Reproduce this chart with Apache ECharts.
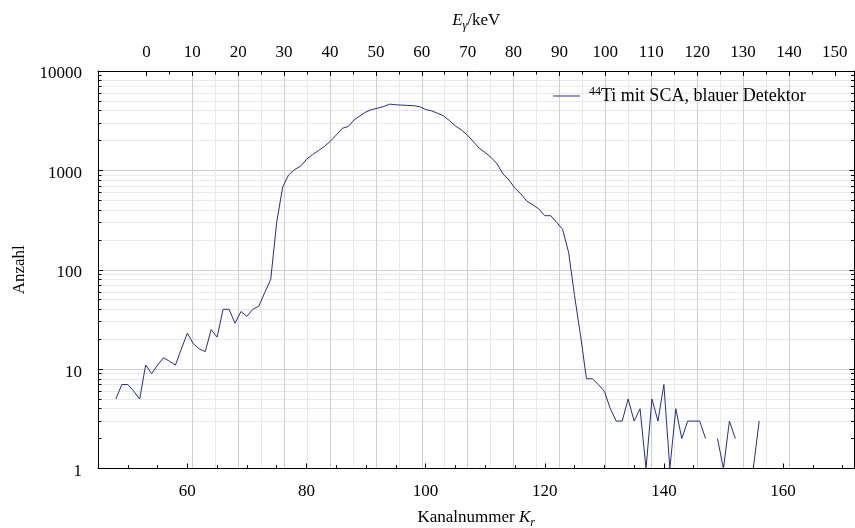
<!DOCTYPE html>
<html>
<head>
<meta charset="utf-8">
<script src="https://cdn.jsdelivr.net/npm/echarts@6/dist/echarts.min.js"></script>
<style>
html, body { margin: 0; background: #fff; }
#chart { width: 855px; height: 528px; }
</style>
</head>
<body>
<div id="chart"></div>
<script>
'use strict';

// channel numbers K_r and counts per channel (0 = empty channel, not drawable on log axis)
var channels = [
    48, 49, 50, 51, 52, 53, 54, 55, 56, 57,
    58, 59, 60, 61, 62, 63, 64, 65, 66, 67,
    68, 69, 70, 71, 72, 73, 74, 75, 76, 77,
    78, 79, 80, 81, 82, 83, 84, 85, 86, 87,
    88, 89, 90, 91, 92, 93, 94, 95, 96, 97,
    98, 99, 100, 101, 102, 103, 104, 105, 106, 107,
    108, 109, 110, 111, 112, 113, 114, 115, 116, 117,
    118, 119, 120, 121, 122, 123, 124, 125, 126, 127,
    128, 129, 130, 131, 132, 133, 134, 135, 136, 137,
    138, 139, 140, 141, 142, 143, 144, 145, 146, 147,
    148, 149, 150, 151, 152, 153, 154, 155, 156
];
var counts = [
    5, 7, 7, 6, 5, 11, 9, 11, 13, 12,
    11, 16, 23, 18, 16, 15, 25, 21, 40, 40,
    29, 38, 34, 40, 43, 59, 80, 300, 680, 900,
    1020, 1100, 1290, 1440, 1580, 1740, 1960, 2270, 2650, 2760,
    3220, 3540, 3880, 4100, 4230, 4400, 4640, 4570, 4540, 4500,
    4480, 4370, 4100, 3970, 3760, 3540, 3170, 2800, 2550, 2270,
    1950, 1670, 1510, 1350, 1160, 920, 800, 660, 580, 490,
    450, 410, 350, 350, 300, 255, 150, 55, 22, 8,
    8, 7, 6, 4, 3, 3, 5, 3, 4, 1,
    5, 3, 7, 1, 4, 2, 3, 3, 3, 2,
    0, 2, 1, 3, 2, 0, 0, 1, 3
];

var channelRange = [45, 172];
var energyRange = [-10.548, 154.29];   // E_gamma/keV at the same left/right edges
var countRange = [1, 10000];

var channelTicks = [60, 80, 100, 120, 140, 160];
var channelMinorTicks = [50, 55, 65, 70, 75, 85, 90, 95, 105, 110, 115, 125, 130, 135, 145, 150, 155, 165, 170];
var energyTicks = [0, 10, 20, 30, 40, 50, 60, 70, 80, 90, 100, 110, 120, 130, 140, 150];
var energyMinorTicks = [5, 15, 25, 35, 45, 55, 65, 75, 85, 95, 105, 115, 125, 135, 145];
var countMinorTicks = [
    2, 3, 4, 5, 6, 7, 8, 9,
    20, 30, 40, 50, 60, 70, 80, 90,
    200, 300, 400, 500, 600, 700, 800, 900,
    2000, 3000, 4000, 5000, 6000, 7000, 8000, 9000
];

var seriesName = '44Ti mit SCA, blauer Detektor';

var FONT = '"Liberation Serif", "DejaVu Serif", serif';
var lineColor = '#2a2a92';
var gridMajor = '#cfcfcf';
var gridMinor = '#e9e9e9';

var plot = {left: 98, top: 71, width: 756.5, height: 397.5, containLabel: false, outerBoundsMode: 'none'};

var blackLine = {show: true, onZero: false, lineStyle: {color: '#000', width: 1}};
var noLine = {show: false, onZero: false};
var labelFont = {fontFamily: FONT, fontSize: 17, color: '#000'};

function ticks(values, len) {
    var t = {show: true, inside: true, length: len, lineStyle: {color: '#000', width: 1}};
    if (values) t.customValues = values;
    return t;
}

function grid_lines(color) {
    return {show: true, showMinLine: false, showMaxLine: false, lineStyle: {color: color, width: 1}};
}

var nameStyle = {
    fontFamily: FONT,
    fontSize: 17,
    color: '#000',
    rich: {
        i: {fontFamily: FONT, fontSize: 17, fontStyle: 'italic', color: '#000'},
        s: {fontFamily: FONT, fontSize: 12, fontStyle: 'italic', color: '#000', verticalAlign: 'bottom', lineHeight: 22}
    }
};

var data = channels.map(function (k, i) {
    return [k, counts[i] > 0 ? counts[i] : '-'];
});

var chart = echarts.init(document.getElementById('chart'));

var option = {
    animation: false,
    backgroundColor: '#fff',
    grid: [plot, plot],
    xAxis: [
        // minor ticks / minor grid (grid 0)
        {
            gridIndex: 0, position: 'bottom', type: 'value',
            min: channelRange[0], max: channelRange[1],
            axisLine: noLine, axisTick: ticks(channelMinorTicks, 3.5),
            axisLabel: {show: false}, splitLine: {show: false}
        },
        {
            gridIndex: 0, position: 'top', type: 'value',
            min: energyRange[0], max: energyRange[1],
            axisLine: noLine, axisTick: ticks(energyMinorTicks, 3.5),
            axisLabel: {show: false}, splitLine: grid_lines(gridMinor)
        },
        // major ticks, labels (grid 1)
        {
            gridIndex: 1, position: 'bottom', type: 'value',
            min: channelRange[0], max: channelRange[1],
            axisLine: blackLine, axisTick: ticks(channelTicks, 5),
            axisLabel: Object.assign({customValues: channelTicks, margin: 15}, labelFont),
            splitLine: {show: false},
            name: 'Kanalnummer {i|K}{s|r}', nameLocation: 'middle', nameGap: 38,
            nameTextStyle: nameStyle
        },
        {
            gridIndex: 1, position: 'top', type: 'value',
            min: energyRange[0], max: energyRange[1],
            axisLine: blackLine, axisTick: ticks(energyTicks, 5),
            axisLabel: Object.assign({customValues: energyTicks, margin: 10}, labelFont),
            splitLine: grid_lines(gridMajor),
            name: '{i|E}{s|γ}/keV', nameLocation: 'middle', nameGap: 39,
            nameTextStyle: nameStyle
        }
    ],
    yAxis: [
        {
            gridIndex: 0, position: 'left', type: 'value',
            min: Math.log10(countRange[0]), max: Math.log10(countRange[1]),
            axisLine: noLine, axisTick: ticks(countMinorTicks.map(Math.log10), 3.5),
            axisLabel: {show: false}, splitLine: grid_lines(gridMinor)
        },
        {
            gridIndex: 0, position: 'right', type: 'value',
            min: Math.log10(countRange[0]), max: Math.log10(countRange[1]),
            axisLine: noLine, axisTick: ticks(countMinorTicks.map(Math.log10), 3.5),
            axisLabel: {show: false}, splitLine: {show: false}
        },
        {
            gridIndex: 1, position: 'left', type: 'log', logBase: 10,
            min: countRange[0], max: countRange[1],
            axisLine: blackLine, axisTick: ticks(null, 5),
            axisLabel: Object.assign({
                margin: 16,
                formatter: function (v) { return '{v|' + Math.round(v) + '}'; },
                rich: {v: {fontFamily: FONT, fontSize: 17, color: '#000', padding: [6, 0, 0, 0]}}
            }, labelFont),
            splitLine: grid_lines(gridMajor),
            name: 'Anzahl', nameLocation: 'middle', nameGap: 70,
            nameTextStyle: nameStyle
        },
        {
            gridIndex: 1, position: 'right', type: 'log', logBase: 10,
            min: countRange[0], max: countRange[1],
            axisLine: blackLine, axisTick: ticks(null, 5),
            axisLabel: {show: false}, splitLine: {show: false}
        }
    ],
    legend: {
        left: 553,
        top: 86,
        padding: 0,
        itemWidth: 27,
        itemHeight: 1,
        data: [{name: seriesName, icon: 'rect'}],
        formatter: function () {
            return '{sup|44}{t|Ti mit SCA, blauer Detektor}';
        },
        textStyle: {
            fontFamily: FONT,
            color: '#000',
            padding: [0, 0, 0, 4],
            rich: {
                sup: {fontFamily: FONT, fontSize: 12, color: '#000', verticalAlign: 'top', lineHeight: 20},
                t: {fontFamily: FONT, fontSize: 18, color: '#000', lineHeight: 20}
            }
        }
    },
    series: [{
        name: seriesName,
        type: 'line',
        xAxisIndex: 2,
        yAxisIndex: 2,
        data: data,
        symbol: 'none',
        showSymbol: false,
        connectNulls: false,
        lineStyle: {color: lineColor, width: 1},
        itemStyle: {color: lineColor}
    }]
};

chart.setOption(option);
</script>
</body>
</html>
